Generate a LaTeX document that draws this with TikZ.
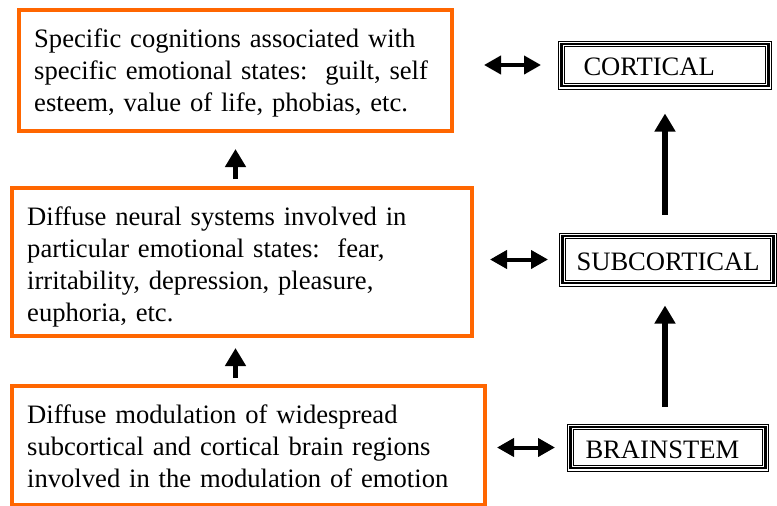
\documentclass[tikz,border=0pt]{standalone}
\usepackage{fontspec}
\setmainfont{Liberation Serif}
\usetikzlibrary{arrows.meta}
\definecolor{ff6600}{HTML}{FF6600}
\frenchspacing

\begin{document}
\begin{tikzpicture}[x=1pt,y=-1pt,
    font=\fontsize{26.6}{32.3}\selectfont,
    obox/.style={draw=ff6600,line width=4pt,inner sep=0pt},
    boxtext/.style={anchor=base west,align=left,text width=440pt,inner sep=0pt},
    rbox/.style={draw,line width=1pt,anchor=west,align=left,inner ysep=0pt,text height=21pt,text depth=0pt},
    uparr/.style={line width=5.5pt,-{Triangle[width=20pt,length=18pt]}},
    dblarr/.style={line width=4pt,{Triangle[width=18pt,length=17pt]}-{Triangle[width=18pt,length=17pt]}}]
    \useasboundingbox(0,0)rectangle(777,506);
    % left column
    \node[obox,minimum width=433pt,minimum height=121pt](cog)at(235.5,70.5){};
    \node[obox,minimum width=460pt,minimum height=148pt](diff)at(242,262){};
    \node[obox,minimum width=473pt,minimum height=119pt](mod)at(248.5,445.5){};
    \node[boxtext](cogtext)at(34,47){Specific cognitions associated with\\specific emotional states:~ guilt, self\\esteem, value of life, phobias, etc.};
    \node[boxtext](difftext)at(27,225){Diffuse neural systems involved in\\particular emotional states:~ fear,\\irritability, depression, pleasure,\\euphoria, etc.};
    \node[boxtext](modtext)at(27,423){Diffuse modulation of widespread\\subcortical and cortical brain regions\\involved in the modulation of emotion};
    % right column
    \node[rbox,text width=163pt,inner xsep=25pt,minimum height=48pt](cort)at(558,65){CORTICAL};
    \node[rbox,text width=189pt,inner xsep=14pt,minimum height=53pt](subc)at(559,259.5){\hspace*{3pt}SUBCORTICAL};
    \node[rbox,text width=165pt,inner xsep=18pt,minimum height=47pt](brst)at(567,447.5){BRAINSTEM};
    \foreach \n in {cort,subc,brst}{
        \draw[line width=2.5pt]([shift={(3.5,3.5)}]\n.north west)rectangle([shift={(-3.5,-3.5)}]\n.south east);
        \draw[line width=.8pt]([shift={(6.2,6.2)}]\n.north west)rectangle([shift={(-6.2,-6.2)}]\n.south east);
    }
    % arrows
    \draw[uparr,shorten <=7pt,shorten >=16pt](cog.south |- diff.north)--(cog.south);
    \draw[uparr,shorten <=6pt,shorten >=10pt](cog.south |- mod.north)--(cog.south |- diff.south);
    \draw[uparr,shorten <=18pt,shorten >=24pt](cort.south |- subc.north)--(cort.south);
    \draw[uparr,shorten <=17pt,shorten >=19pt](cort.south |- brst.north)--(cort.south |- subc.south);
    \draw[dblarr,shorten <=30pt,shorten >=17pt](cog.east |- cort.west)--(cort.west);
    \draw[dblarr,shorten <=16pt,shorten >=11pt](diff.east |- subc.west)--(subc.west);
    \draw[dblarr,shorten <=10pt,shorten >=12pt](mod.east |- brst.west)--(brst.west);
\end{tikzpicture}
\end{document}
